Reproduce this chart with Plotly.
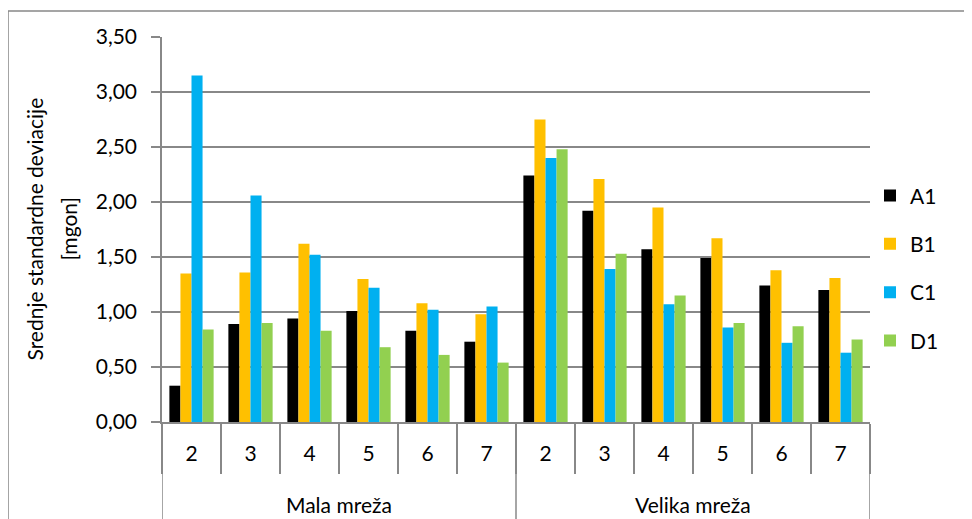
import plotly.graph_objs as go

groups = ["Mala mreža", "Velika mreža"]
subcats = ["2", "3", "4", "5", "6", "7"] * 2

a1 = [0.33, 0.89, 0.94, 1.01, 0.83, 0.73, 2.24, 1.92, 1.57, 1.49, 1.24, 1.20]
b1 = [1.35, 1.36, 1.62, 1.30, 1.08, 0.98, 2.75, 2.21, 1.95, 1.67, 1.38, 1.31]
c1 = [3.15, 2.06, 1.52, 1.22, 1.02, 1.05, 2.40, 1.39, 1.07, 0.86, 0.72, 0.63]
d1 = [0.84, 0.90, 0.83, 0.68, 0.61, 0.54, 2.48, 1.53, 1.15, 0.90, 0.87, 0.75]

tickvals = [0, 0.5, 1.0, 1.5, 2.0, 2.5, 3.0, 3.5]
ticktext = ["0,00", "0,50", "1,00", "1,50", "2,00", "2,50", "3,00", "3,50"]
title_lines = ["Srednje standardne deviacije", "[mgon]"]

series = [("A1", a1, "#000000"), ("B1", b1, "#FFC000"),
          ("C1", c1, "#00B0F0"), ("D1", d1, "#92D050")]

GRID = "#888888"
pos = list(range(len(subcats)))
per_group = len(subcats) // len(groups)

fig = go.Figure()
for name, vals, col in series:
    fig.add_trace(go.Bar(x=pos, y=vals, name=name, legendgroup=name,
                         marker_color=col, marker_line_width=0))

# group labels and dividers (like Excel's multi-level category axis)
shapes = []
annotations = []
for i, g in enumerate(groups):
    annotations.append(dict(x=i * per_group + (per_group - 1) / 2, y=-0.215,
                            xref="x", yref="paper", text=g, showarrow=False,
                            yanchor="middle", font=dict(size=21)))
for i in range(len(groups) + 1):
    bx = i * per_group - 0.5
    shapes.append(dict(type="line", xref="x", yref="paper", x0=bx, x1=bx,
                       y0=0, y1=-0.35, line=dict(color=GRID, width=1.5)))

# y axis title, two lines placed separately (wider line spacing than plotly's)
for off, line in zip([-128, -94], title_lines):
    annotations.append(dict(x=0, y=0.5, xref="paper", yref="paper",
                            xshift=off, text=line, textangle=-90,
                            showarrow=False, xanchor="center", yanchor="middle",
                            font=dict(size=21)))

# outer chart frame
shapes.append(dict(type="rect", xref="paper", yref="paper",
                   x0=-0.2175, x1=1.25, y0=-0.4, y1=1.0675,
                   line=dict(color=GRID, width=1.5)))

fig.update_layout(
    width=964, height=511,
    margin=dict(l=154, r=102, t=29, b=97),
    barmode="group", bargap=0.25, bargroupgap=0,
    plot_bgcolor="white", paper_bgcolor="white",
    font=dict(family="Lato", size=21, color="#000000"),
    showlegend=True,
    legend=dict(x=1.0, y=0.399, yanchor="middle", xanchor="left",
                font=dict(size=21), tracegroupgap=18, itemwidth=30),
    yaxis=dict(range=[0, 3.5], tickvals=tickvals, ticktext=ticktext,
               showgrid=True, gridcolor=GRID, gridwidth=1.5,
               showline=True, linecolor=GRID, linewidth=1.5,
               ticks="outside", ticklen=9, tickcolor=GRID, tickwidth=1.5,
               zeroline=False, ticklabelstandoff=10, automargin=False),
    xaxis=dict(range=[-0.5, len(subcats) - 0.5], tickvals=pos, ticktext=subcats,
               showline=True, linecolor=GRID, linewidth=1.5,
               ticks="", showgrid=False, zeroline=False,
               ticklabelstandoff=12, automargin=False,
               minor=dict(tick0=-0.5, dtick=1, ticks="outside", ticklen=50,
                          tickcolor=GRID, tickwidth=1.5, showgrid=False)),
    shapes=shapes,
    annotations=annotations,
)

fig.write_html("out.html")
